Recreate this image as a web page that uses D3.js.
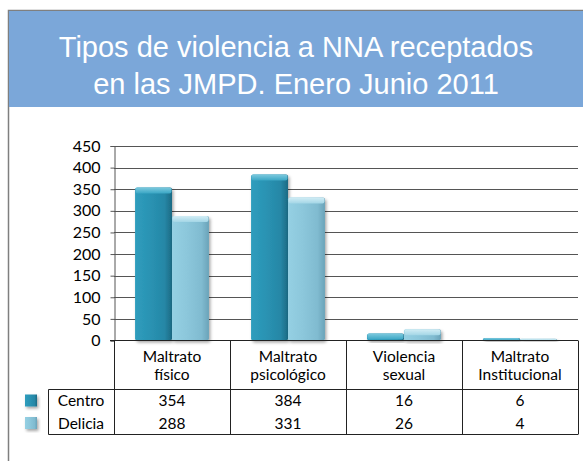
<!DOCTYPE html>
<html>
<head>
<meta charset="utf-8">
<script src="https://cdn.jsdelivr.net/npm/d3@7"></script>
<style>
  body { margin: 0; background: #fff; }
  svg { display: block; }
</style>
</head>
<body>
<svg id="chart" width="583" height="461"></svg>
<script>
// data
const titleLines = ['Tipos de violencia a NNA receptados', 'en las JMPD. Enero Junio 2011'];
const categories = [['Maltrato', 'físico'], ['Maltrato', 'psicológico'], ['Violencia', 'sexual'], ['Maltrato', 'Institucional']];
const seriesNames = ['Centro', 'Delicia'];
const centro = [354, 384, 16, 6];
const delicia = [288, 331, 26, 4];
const yTicks = [0, 50, 100, 150, 200, 250, 300, 350, 400, 450];

const svg = d3.select('#chart');
const font = 'Lato, "Open Sans", sans-serif';

// frame + title band
svg.append('rect')
  .attr('x', 8.5).attr('y', 10.5).attr('width', 600).attr('height', 500)
  .attr('fill', '#fff').attr('stroke', '#7f7f7f').attr('stroke-width', 1.5);
svg.append('rect')
  .attr('x', 9).attr('y', 11).attr('width', 600).attr('height', 96)
  .attr('fill', '#7ba7d9');
svg.selectAll('text.title').data(titleLines).enter().append('text')
  .attr('class', 'title')
  .attr('x', 296).attr('y', (d, i) => 57 + i * 37)
  .attr('text-anchor', 'middle')
  .attr('font-family', '"Liberation Sans", Arial, sans-serif')
  .attr('font-size', 29)
  .attr('fill', '#fff')
  .text(d => d);

// scales
const x0 = d3.scaleBand().domain(d3.range(categories.length)).range([114, 578]).paddingInner(0).paddingOuter(0);
const x1 = d3.scaleBand().domain([0, 1]).range([0, x0.bandwidth()]).paddingOuter(0.57).paddingInner(0);
const y = d3.scaleLinear().domain([0, 450]).range([340.5, 146]);

// defs: gradients and shadow
const defs = svg.append('defs');
const grads = [
  {id: 'gC', stops: ['#2f9dbd', '#2a93b3', '#2687a6', '#1c6a84']},
  {id: 'gD', stops: ['#95d0e3', '#8cc7db', '#80bbd0', '#6aa3b9']}
];
grads.forEach(g => {
  const lg = defs.append('linearGradient').attr('id', g.id).attr('x1', 0).attr('x2', 1).attr('y1', 0).attr('y2', 0);
  [0, 0.4, 0.8, 1].forEach((o, i) => lg.append('stop').attr('offset', o).attr('stop-color', g.stops[i]));
});
const capC = defs.append('linearGradient').attr('id', 'capC').attr('x1', 0).attr('x2', 0).attr('y1', 0).attr('y2', 1);
capC.append('stop').attr('offset', 0).attr('stop-color', '#7cc9de');
capC.append('stop').attr('offset', 1).attr('stop-color', '#3aa6c4');
const capD = defs.append('linearGradient').attr('id', 'capD').attr('x1', 0).attr('x2', 0).attr('y1', 0).attr('y2', 1);
capD.append('stop').attr('offset', 0).attr('stop-color', '#d2edf5');
capD.append('stop').attr('offset', 1).attr('stop-color', '#a3d6e6');
const f = defs.append('filter').attr('id', 'sh').attr('x', '-20%').attr('y', '-20%').attr('width', '150%').attr('height', '150%');
f.append('feDropShadow').attr('dx', 1.5).attr('dy', 2).attr('stdDeviation', 1.8).attr('flood-color', '#000').attr('flood-opacity', 0.35);

// gridlines
svg.selectAll('line.grid').data(yTicks.slice(1)).enter().append('line')
  .attr('x1', 114).attr('x2', 578)
  .attr('y1', d => Math.round(y(d)) + 0.5).attr('y2', d => Math.round(y(d)) + 0.5)
  .attr('stroke', '#555').attr('stroke-width', 1);

// y axis
const yAxis = svg.append('g').attr('transform', 'translate(114.5,0)')
  .call(d3.axisLeft(y).tickValues(yTicks).tickSize(4).tickPadding(10));
yAxis.select('.domain').attr('stroke', '#555');
yAxis.selectAll('line').attr('stroke', '#555');
yAxis.selectAll('text').attr('font-family', font).attr('font-size', 16).attr('fill', '#000');

// bars
const series = [centro, delicia];
series.forEach((vals, s) => {
  const g = svg.append('g');
  vals.forEach((v, i) => {
    const bx = x0(i) + x1(s);
    const bw = x1.bandwidth();
    const top = y(v);
    const h = y(0) - top;
    const bg = g.append('g').attr('filter', 'url(#sh)');
    bg.append('rect')
      .attr('x', bx).attr('y', top).attr('width', bw).attr('height', h)
      .attr('rx', 2)
      .attr('fill', s === 0 ? 'url(#gC)' : 'url(#gD)');
    const capH = Math.min(6, h);
    bg.append('rect')
      .attr('x', bx + 0.5).attr('y', top).attr('width', bw - 1).attr('height', capH)
      .attr('rx', 2)
      .attr('fill', s === 0 ? 'url(#capC)' : 'url(#capD)');
  });
});

// x axis line
svg.append('line').attr('x1', 110).attr('x2', 578).attr('y1', 340.5).attr('y2', 340.5)
  .attr('stroke', '#222');

// data table
const rowTop = 389.5, rowH = 22.5, tableBottom = 434.5, tableLeft = 48.5;
const vlines = d3.range(categories.length + 1).map(i => i < categories.length ? x0(i) : 578);
svg.selectAll('line.tv').data(vlines).enter().append('line')
  .attr('x1', d => Math.round(d) + 0.5).attr('x2', d => Math.round(d) + 0.5)
  .attr('y1', 340.5).attr('y2', tableBottom)
  .attr('stroke', '#222');
svg.append('line').attr('x1', tableLeft).attr('x2', 578).attr('y1', rowTop).attr('y2', rowTop).attr('stroke', '#222');
svg.append('line').attr('x1', tableLeft).attr('x2', 578).attr('y1', tableBottom).attr('y2', tableBottom).attr('stroke', '#222');
svg.append('line').attr('x1', tableLeft).attr('x2', tableLeft).attr('y1', rowTop).attr('y2', tableBottom).attr('stroke', '#222');

// header
categories.forEach((c, i) => {
  svg.append('text')
    .attr('x', x0(i) + x0.bandwidth() / 2).attr('y', 362)
    .attr('text-anchor', 'middle')
    .attr('font-family', font).attr('font-size', 15.5)
    .selectAll('tspan').data(c).enter().append('tspan')
    .attr('x', x0(i) + x0.bandwidth() / 2)
    .attr('dy', (d, k) => k === 0 ? 0 : 18)
    .text(d => d);
});

// rows
series.forEach((vals, s) => {
  const cy = rowTop + rowH * s + rowH / 2 + 5.5;
  svg.append('rect')
    .attr('x', 25).attr('y', rowTop + rowH * s + 5).attr('width', 12).attr('height', 12)
    .attr('fill', s === 0 ? 'url(#gC)' : 'url(#gD)')
    .attr('filter', 'url(#sh)');
  svg.append('text')
    .attr('x', 81).attr('y', cy)
    .attr('text-anchor', 'middle')
    .attr('font-family', font).attr('font-size', 15.5)
    .text(seriesNames[s]);
  svg.selectAll(null).data(vals).enter().append('text')
    .attr('x', (d, i) => x0(i) + x0.bandwidth() / 2).attr('y', cy)
    .attr('text-anchor', 'middle')
    .attr('font-family', font).attr('font-size', 15.5)
    .text(d => d);
});
</script>
</body>
</html>
